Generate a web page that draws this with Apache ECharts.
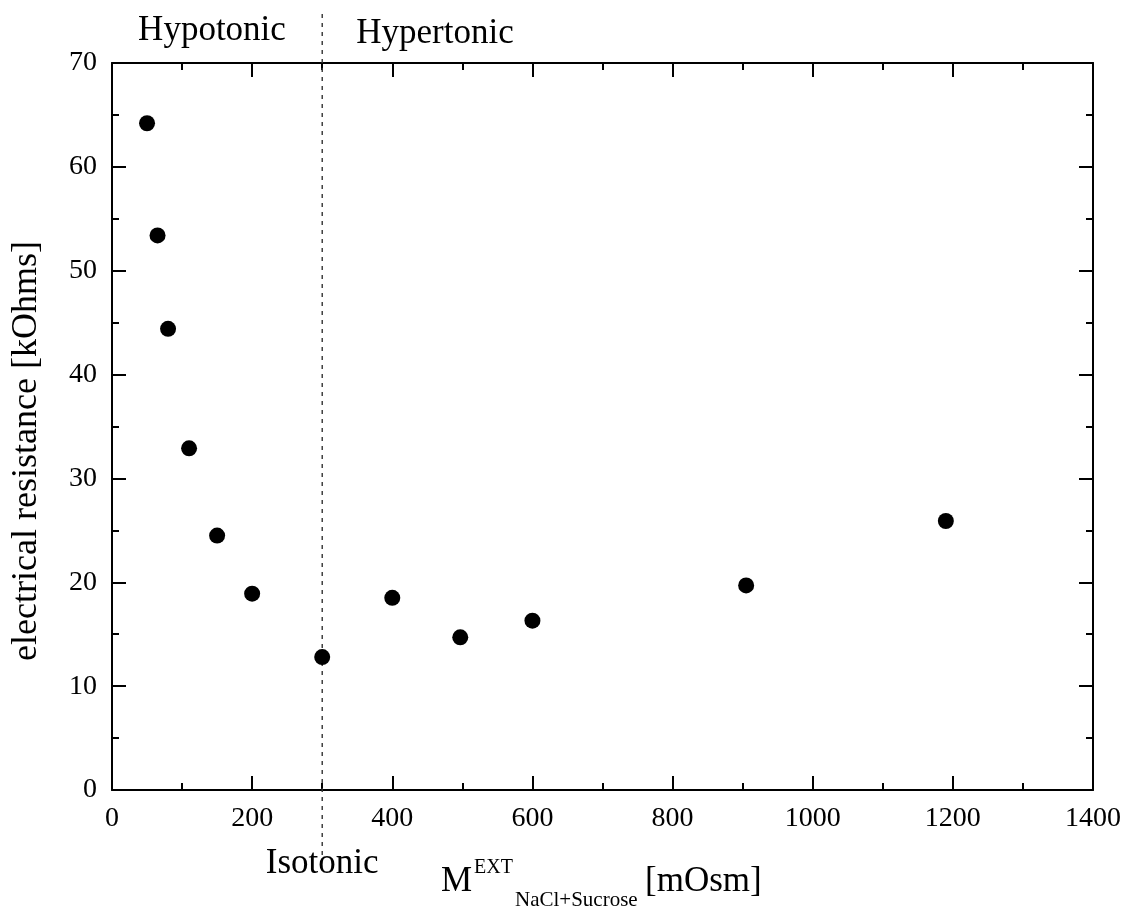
<!DOCTYPE html>
<html>
<head>
<meta charset="utf-8">
<title>electrical resistance</title>
<script src="https://cdn.jsdelivr.net/npm/echarts@6/dist/echarts.min.js"></script>
<style>
    html, body { margin: 0; padding: 0; background: #fff; }
    #main { width: 1139px; height: 910px; }
</style>
</head>
<body>
<div id="main"></div>
<script>
// data
var osmolarity = [50, 65, 80, 110, 150, 200, 300, 400, 497, 600, 905, 1190];
var resistance = [64.2, 53.4, 44.4, 32.9, 24.5, 18.9, 12.8, 18.5, 14.7, 16.3, 19.7, 25.9];
var isotonicX = 300;

var xMin = 0, xMax = 1400, xStep = 200;
var yMin = 0, yMax = 70, yStep = 10;

var serif = 'Liberation Serif';

function buildPoints() {
    var pts = [];
    for (var i = 0; i < osmolarity.length; i++) {
        pts.push([osmolarity[i], resistance[i]]);
    }
    return pts;
}

// axis template, box style (all four sides, ticks inside)
function axisBase(showLabel) {
    return {
        type: 'value',
        axisLine: { show: true, onZero: false, lineStyle: { color: '#000', width: 2 } },
        axisTick: { show: true, inside: true, length: 14, lineStyle: { color: '#000', width: 2 } },
        minorTick: { show: true, splitNumber: 2, length: 7, lineStyle: { color: '#000', width: 2 } },
        splitLine: { show: false },
        axisLabel: {
            show: showLabel,
            color: '#000',
            fontFamily: serif,
            fontSize: 28,
            margin: 15,
            formatter: function (v) { return String(v); } // no thousands separator
        }
    };
}

function xAxisOpt(pos, showLabel) {
    var a = axisBase(showLabel);
    a.position = pos;
    a.min = xMin; a.max = xMax; a.interval = xStep;
    return a;
}

function yAxisOpt(pos, showLabel) {
    var a = axisBase(showLabel);
    a.position = pos;
    a.min = yMin; a.max = yMax; a.interval = yStep;
    return a;
}

var myChart = echarts.init(document.getElementById('main'));

var option = {
    animation: false,
    backgroundColor: '#fff',
    grid: {
        left: 112,
        right: 46,
        top: 63,
        bottom: 120,
        containLabel: false,
        outerBoundsMode: 'none'
    },
    xAxis: [xAxisOpt('bottom', true), xAxisOpt('top', false)],
    yAxis: [yAxisOpt('left', true), yAxisOpt('right', false)],
    series: [{
        type: 'scatter',
        xAxisIndex: 0,
        yAxisIndex: 0,
        symbol: 'circle',
        symbolSize: 16,
        itemStyle: { color: '#000', opacity: 1 },
        data: buildPoints()
    }]
};
myChart.setOption(option);

// annotations: isotonic line reaches outside the plot, so place it with graphic
function txt(x, y, s, size, rot) {
    return {
        type: 'text',
        x: x,
        y: y,
        rotation: rot || 0,
        style: {
            text: s,
            fill: '#000',
            font: size + 'px "' + serif + '"',
            align: 'center',
            verticalAlign: 'middle'
        }
    };
}

function txtLeft(x, y, s, size) {
    var t = txt(x, y, s, size);
    t.style.align = 'left';
    return t;
}

var isoPx = myChart.convertToPixel({ xAxisIndex: 0 }, isotonicX);

myChart.setOption({
    graphic: [
        {
            type: 'line',
            shape: { x1: isoPx, y1: 14, x2: isoPx, y2: 857 },
            style: { stroke: '#333', lineWidth: 1.4, lineDash: [4, 5] },
            z: 1
        },
        txt(212, 31, 'Hypotonic', 35),
        txt(435, 34, 'Hypertonic', 35),
        txt(isoPx, 864, 'Isotonic', 35),
        // y axis title
        txt(27, 451, 'electrical resistance [kOhms]', 36, Math.PI / 2),
        // x axis title M^EXT_(NaCl+Sucrose) [mOsm]
        txtLeft(441, 882, 'M', 35),
        txtLeft(474, 868, 'EXT', 20),
        txtLeft(515, 900, 'NaCl+Sucrose', 21),
        txtLeft(645, 882, '[mOsm]', 35)
    ]
});
</script>
</body>
</html>
